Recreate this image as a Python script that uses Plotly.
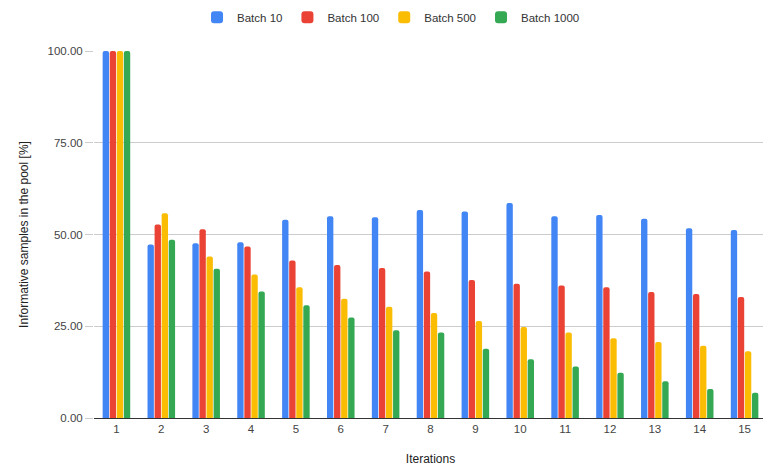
import plotly.graph_objects as go

iterations = [str(i) for i in range(1, 16)]
batch_10 = [100, 47.3, 47.6, 47.9, 54.0, 55.0, 54.7, 56.7, 56.3, 58.6, 55.0, 55.3, 54.3, 51.7, 51.2]
batch_100 = [100, 52.7, 51.4, 46.7, 42.9, 41.7, 40.9, 39.9, 37.6, 36.6, 36.1, 35.6, 34.3, 33.8, 33.0]
batch_500 = [100, 55.8, 44.0, 39.1, 35.6, 32.5, 30.3, 28.6, 26.4, 24.8, 23.3, 21.7, 20.7, 19.7, 18.2]
batch_1000 = [100, 48.6, 40.7, 34.5, 30.7, 27.4, 23.9, 23.3, 18.9, 16.0, 14.0, 12.3, 10.0, 7.9, 6.9]
series_names = ["Batch 10", "Batch 100", "Batch 500", "Batch 1000"]
colors = ["#4285F4", "#EA4335", "#FBBC04", "#34A853"]
y_ticks = [0, 25, 50, 75, 100]

fig = go.Figure()
for name, vals, c in zip(series_names, [batch_10, batch_100, batch_500, batch_1000], colors):
    fig.add_trace(go.Bar(x=iterations, y=vals, name=name, marker_color=c,
                         marker_line_width=0))

# The page body has an 8px default margin, so the figure is sized to fit.
fig.update_layout(
    width=763, height=458,
    paper_bgcolor="white", plot_bgcolor="white",
    font=dict(family="Liberation Sans, Arial, sans-serif", size=11.5, color="#444"),
    margin=dict(l=86, r=4, t=43, b=48, autoexpand=False),
    barmode="group", bargap=0.37, bargroupgap=0.1,
    barcornerradius=2,
    legend=dict(orientation="h", x=0.502, xanchor="center", y=0.980, yanchor="middle",
                yref="container", xref="container", itemwidth=30,
                font=dict(size=11.5, color="#333")),
    xaxis=dict(type="category", showgrid=False, showline=True, linecolor="#333",
               linewidth=1, ticks="", tickfont=dict(size=11.5, color="#444"),
               automargin=False,
               title=dict(text="Iterations", font=dict(size=12, color="#222"), standoff=21)),
    yaxis=dict(range=[0, 100], tickvals=y_ticks, tickformat=".2f", showgrid=True,
               gridcolor="#ccc", zeroline=False, ticks="outside", ticklen=8,
               tickcolor="#ccc", automargin=False,
               tickfont=dict(size=11.5, color="#444"),
               title=dict(text="Informative samples in the pool [%]",
                          font=dict(size=12, color="#222"), standoff=16)),
)
fig.write_html("out.html")
